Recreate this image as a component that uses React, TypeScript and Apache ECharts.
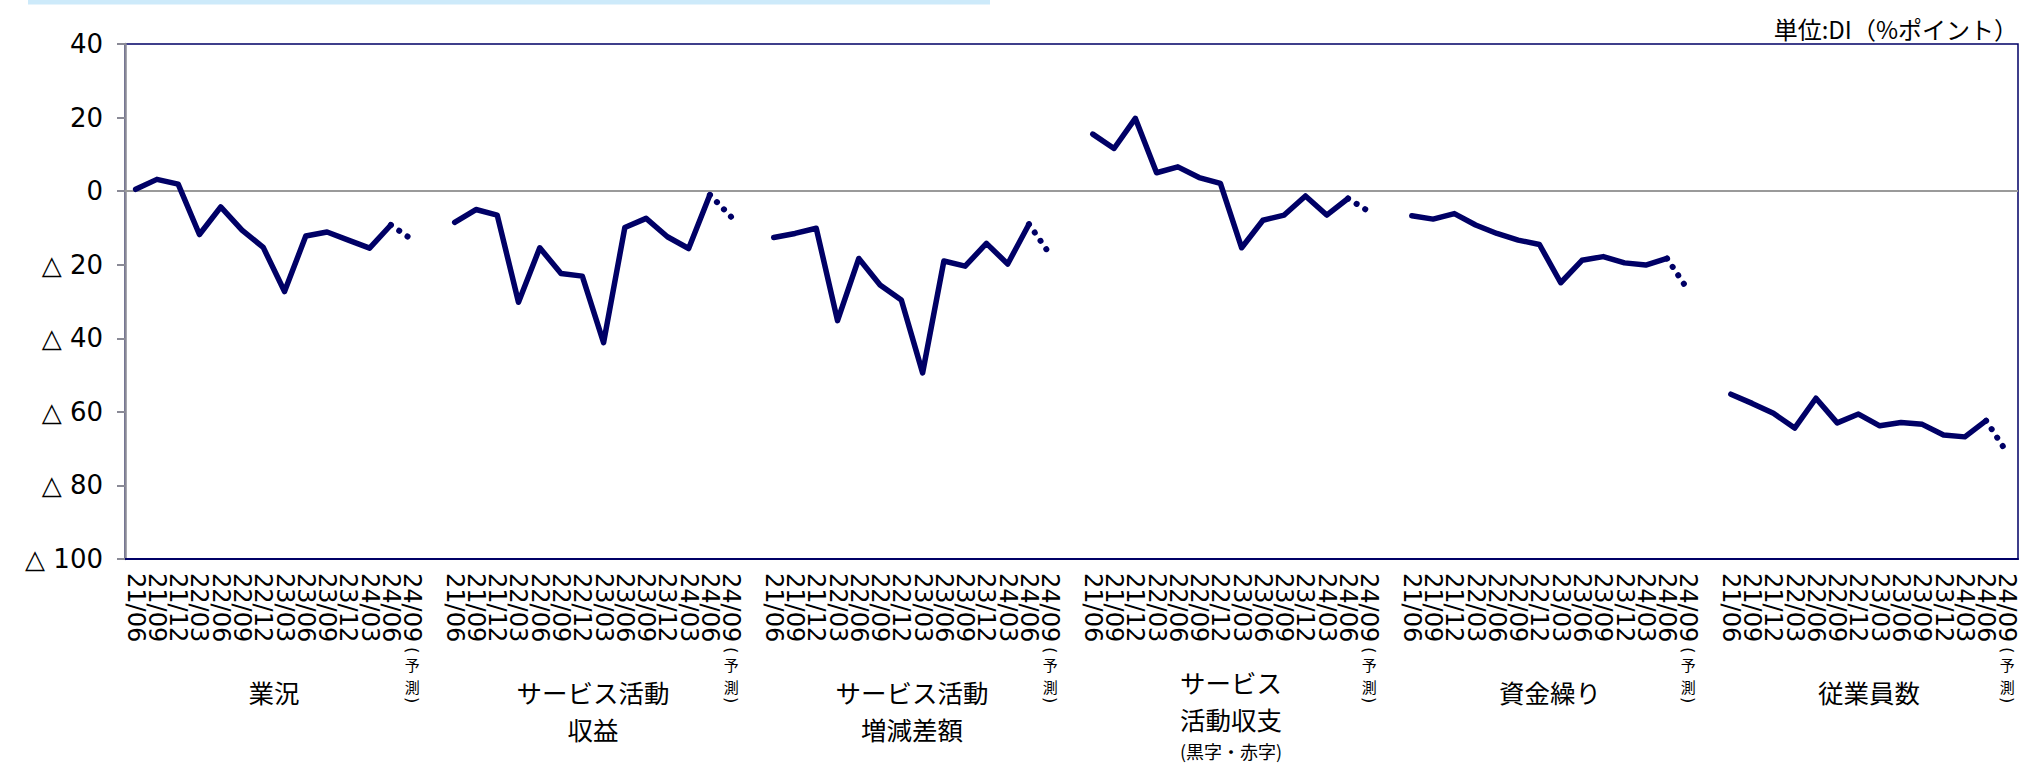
import React, { useEffect, useRef } from 'react';
import * as echarts from 'echarts';

const periods = ['21/06', '21/09', '21/12', '22/03', '22/06', '22/09', '22/12', '23/03', '23/06', '23/09', '23/12', '24/03', '24/06', '24/09'];
const groupNames = ['業況', 'サービス活動\n収益', 'サービス活動\n増減差額', 'サービス\n活動収支', '資金繰り', '従業員数'];
const groupNotes = ['', '', '', '(黒字・赤字)', '', ''];
const forecastChars = ['予', '測'];
const unitLabel = '単位:DI（%ポイント）';

const gyokyo = [0.5, 3.2, 1.9, -11.8, -4.3, -10.6, -15.3, -27.3, -12.2, -11.1, -13.3, -15.5, -9.2, -13.2];
const shueki = [-8.5, -5.0, -6.5, -30.2, -15.4, -22.4, -23.1, -41.2, -9.9, -7.4, -12.4, -15.6, -1.0, -7.0];
const zogen = [-12.6, -11.5, -10.1, -35.2, -18.3, -25.5, -29.6, -49.4, -19.0, -20.4, -14.2, -19.8, -9.0, -17.3];
const shushi = [15.5, 11.6, 19.8, 5.0, 6.6, 3.7, 2.1, -15.4, -7.9, -6.5, -1.3, -6.5, -2.0, -5.6];
const shikin = [-6.7, -7.6, -6.1, -9.2, -11.5, -13.3, -14.5, -24.9, -18.8, -17.8, -19.5, -20.1, -18.3, -27.0];
const jugyoin = [-55.2, -57.7, -60.4, -64.4, -56.3, -63.0, -60.6, -63.8, -62.9, -63.4, -66.3, -66.8, -62.4, -71.2];

const yMin = -100;
const yMax = 40;
const yInterval = 20;

const groupValues = [gyokyo, shueki, zogen, shushi, shikin, jugyoin];

const NAVY = '#000066';

export default function App() {
  const ref = useRef<HTMLDivElement>(null);
  useEffect(() => {
    document.body.style.margin = '0';
    if (!ref.current) return;
    const chart = echarts.init(ref.current, undefined, { renderer: 'svg' });

    const categories: string[] = [];
    const groupStart: number[] = [];
    groupNames.forEach((_, gi) => {
      if (gi > 0) categories.push(`gap${gi}`);
      groupStart.push(categories.length);
      periods.forEach((p) => categories.push(`${gi}|${p}`));
    });
    const n = categories.length;

    const series: any[] = [];
    groupValues.forEach((vals, gi) => {
      const solid: (number | null)[] = new Array(n).fill(null);
      const dotted: (number | null)[] = new Array(n).fill(null);
      vals.forEach((v, k) => {
        if (k <= vals.length - 2) solid[groupStart[gi] + k] = v;
        if (k >= vals.length - 2) dotted[groupStart[gi] + k] = v;
      });
      series.push({
        type: 'line',
        data: solid,
        showSymbol: false,
        symbol: 'none',
        lineStyle: { color: NAVY, width: 5.5, join: 'round', cap: 'round' },
        z: 3,
        ...(gi === 0
          ? {
              markLine: {
                silent: true,
                symbol: 'none',
                label: { show: false },
                lineStyle: { color: '#9a9a9a', width: 2, type: 'solid' },
                data: [{ yAxis: 0 }],
                z: 1,
              },
            }
          : {}),
      });
      series.push({
        type: 'line',
        data: dotted,
        showSymbol: false,
        symbol: 'none',
        lineStyle: { color: NAVY, width: 6, type: [0.1, 10], cap: 'round' },
        z: 3,
      });
    });

    chart.setOption({
      animation: false,
      grid: {
        left: 125,
        right: 2,
        top: 44,
        bottom: 205,
        show: true,
        borderColor: NAVY,
        borderWidth: 1.5,
        backgroundColor: 'transparent',
      },
      xAxis: {
        type: 'category',
        data: categories,
        boundaryGap: true,
        axisLine: { onZero: false, lineStyle: { color: NAVY, width: 2 } },
        axisTick: { show: false },
        axisLabel: {
          interval: 0,
          rotate: -90,
          margin: 14,
          fontSize: 24,
          fontFamily: 'DejaVu Sans',
          color: '#000',
          formatter: (v: string) => (v.startsWith('gap') ? '' : v.split('|')[1]),
        },
        splitLine: { show: false },
      },
      yAxis: {
        type: 'value',
        min: yMin,
        max: yMax,
        interval: yInterval,
        axisLine: { show: true, lineStyle: { color: '#8a8a96', width: 2.5 } },
        axisTick: { show: true, length: 8, lineStyle: { color: '#8a8a96', width: 2 } },
        splitLine: { show: false },
        axisLabel: {
          margin: 22,
          fontSize: 26,
          fontFamily: 'DejaVu Sans, Noto Sans CJK JP',
          color: '#000',
          formatter: (v: number) => (v < 0 ? '△ ' + Math.abs(v) : String(v)),
        },
      },
      series,
    });

    const px = (idx: number) => chart.convertToPixel({ xAxisIndex: 0 }, categories[idx]) as number;
    const graphics: any[] = [
      {
        type: 'rect',
        shape: { x: 28, y: 0, width: 962, height: 4.5 },
        style: { fill: '#cdeafa' },
        silent: true,
      },
      {
        type: 'text',
        x: 2018,
        y: 28,
        style: {
          text: unitLabel,
          font: '24px "Noto Sans CJK JP"',
          fill: '#000',
          align: 'right',
          verticalAlign: 'middle',
        },
      },
    ];
    groupNames.forEach((name, gi) => {
      const s = groupStart[gi];
      const cx = (px(s + 6) + px(s + 7)) / 2;
      const hasNote = groupNotes[gi] !== '';
      const lineH = 37;
      const firstLineY = hasNote ? 681 : 691;
      graphics.push({
        type: 'text',
        x: cx,
        y: firstLineY - lineH / 2,
        style: {
          text: name,
          font: '25.5px "Noto Sans CJK JP"',
          fill: '#000',
          align: 'center',
          verticalAlign: 'top',
          lineHeight: lineH,
        },
      });
      if (hasNote) {
        graphics.push({
          type: 'text',
          x: cx,
          y: 750.5,
          style: {
            text: groupNotes[gi],
            font: '18px "Noto Sans CJK JP"',
            fill: '#000',
            align: 'center',
            verticalAlign: 'middle',
          },
        });
      }
      const fx = px(s + periods.length - 1);
      graphics.push({
        type: 'text',
        x: fx,
        y: 650,
        rotation: -Math.PI / 2,
        style: { text: '(', font: '16px "DejaVu Sans"', fill: '#000', align: 'center', verticalAlign: 'middle' },
      });
      forecastChars.forEach((ch, ci) => {
        graphics.push({
          type: 'text',
          x: fx,
          y: 664 + ci * 22,
          style: { text: ch, font: '15px "Noto Sans CJK JP"', fill: '#000', align: 'center', verticalAlign: 'middle' },
        });
      });
      graphics.push({
        type: 'text',
        x: fx,
        y: 700,
        rotation: -Math.PI / 2,
        style: { text: ')', font: '16px "DejaVu Sans"', fill: '#000', align: 'center', verticalAlign: 'middle' },
      });
    });
    chart.setOption({ graphic: graphics });

    return () => chart.dispose();
  }, []);
  return <div ref={ref} style={{ width: 2020, height: 764 }} />;
}
